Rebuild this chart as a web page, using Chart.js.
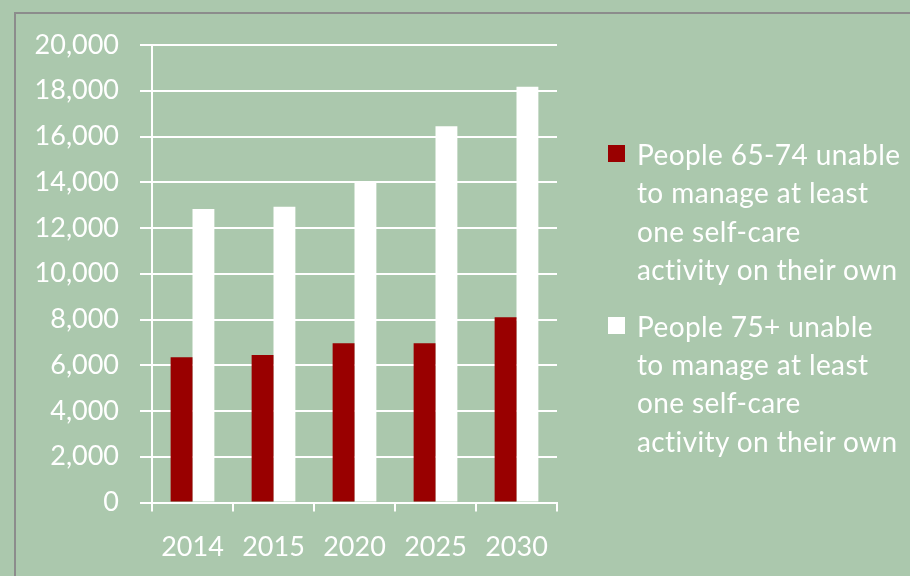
<!DOCTYPE html>
<html><head><meta charset="utf-8">
<script src="https://cdn.jsdelivr.net/npm/chart.js@4/dist/chart.umd.min.js"></script>
<style>
html,body{margin:0;padding:0;width:910px;height:576px;overflow:hidden;background:#abc8ad;}
#frame{position:absolute;left:14px;top:12px;width:1000px;height:700px;border-left:2px solid #8c8c8c;border-top:2px solid #8c8c8c;}
#wrap{position:absolute;left:0;top:0;width:910px;height:576px;}
#legend{position:absolute;left:608px;top:0;width:302px;height:576px;}
.item{position:absolute;left:0;}
.sw{position:absolute;left:0;width:17px;height:17px;}
.txt{position:absolute;left:29px;top:0;font-family:Lato,sans-serif;font-size:28px;letter-spacing:0.4px;line-height:38.3px;color:#ffffff;white-space:nowrap;}
</style>
</head><body>
<div id="frame"></div>
<div id="wrap"><canvas id="c" width="910" height="576"></canvas></div>
<div id="legend"></div>
<script>
const categories = ["2014", "2015", "2020", "2025", "2030"];
const series65to74 = [6350, 6450, 6960, 6960, 8100];
const series75plus = [12830, 12930, 14060, 16450, 18180];
const seriesLabels = [
  ["People 65-74 unable", "to manage at least", "one self-care", "activity on their own"],
  ["People 75+ unable", "to manage at least", "one self-care", "activity on their own"]
];
const seriesColors = ["#990000", "#ffffff"];
const yTicks = [0, 2000, 4000, 6000, 8000, 10000, 12000, 14000, 16000, 18000, 20000];

const tickFont = {family: "Lato", size: 27};

const chart = new Chart(document.getElementById("c"), {
  type: "bar",
  data: {
    labels: categories,
    datasets: [
      {label: seriesLabels[0].join(" "), data: series65to74, backgroundColor: seriesColors[0], borderWidth: 0},
      {label: seriesLabels[1].join(" "), data: series75plus, backgroundColor: seriesColors[1], borderWidth: 0}
    ]
  },
  options: {
    responsive: false,
    devicePixelRatio: 1,
    animation: false,
    layout: {padding: {top: 45, right: 353, bottom: 0, left: 0}},
    plugins: {legend: {display: false}, tooltip: {enabled: false}},
    datasets: {bar: {categoryPercentage: 0.54, barPercentage: 1.0}},
    scales: {
      x: {
        grid: {display: true, drawOnChartArea: false, drawTicks: true, tickLength: 9, color: "#ffffff", lineWidth: 2},
        border: {display: true, color: "#ffffff", width: 2},
        ticks: {color: "#ffffff", font: tickFont, padding: 20, maxRotation: 0},
        afterFit: s => { s.height = 73.5; }
      },
      y: {
        min: 0, max: 20000,
        afterBuildTicks: s => { s.ticks = yTicks.map(v => ({value: v})); },
        grid: {color: "#ffffff", lineWidth: 2, tickLength: 12, drawTicks: true},
        border: {display: true, color: "#ffffff", width: 2},
        ticks: {color: "#ffffff", font: tickFont, padding: 21,
          callback: v => v.toLocaleString("en-US")},
        afterFit: s => { s.width = 152; }
      }
    }
  }
});

// HTML legend built from the datasets
const legend = document.getElementById("legend");
const textTops = [135.0, 306.7];
chart.data.datasets.forEach((ds, i) => {
  const item = document.createElement("div");
  item.className = "item";
  item.style.top = textTops[i] + "px";
  const sw = document.createElement("div");
  sw.className = "sw";
  sw.style.background = ds.backgroundColor;
  sw.style.top = "10px";
  const txt = document.createElement("div");
  txt.className = "txt";
  txt.innerHTML = seriesLabels[i].map(s => s.replace(/&/g, "&amp;").replace(/</g, "&lt;")).join("<br>");
  item.appendChild(sw);
  item.appendChild(txt);
  legend.appendChild(item);
});
</script>
</body></html>
